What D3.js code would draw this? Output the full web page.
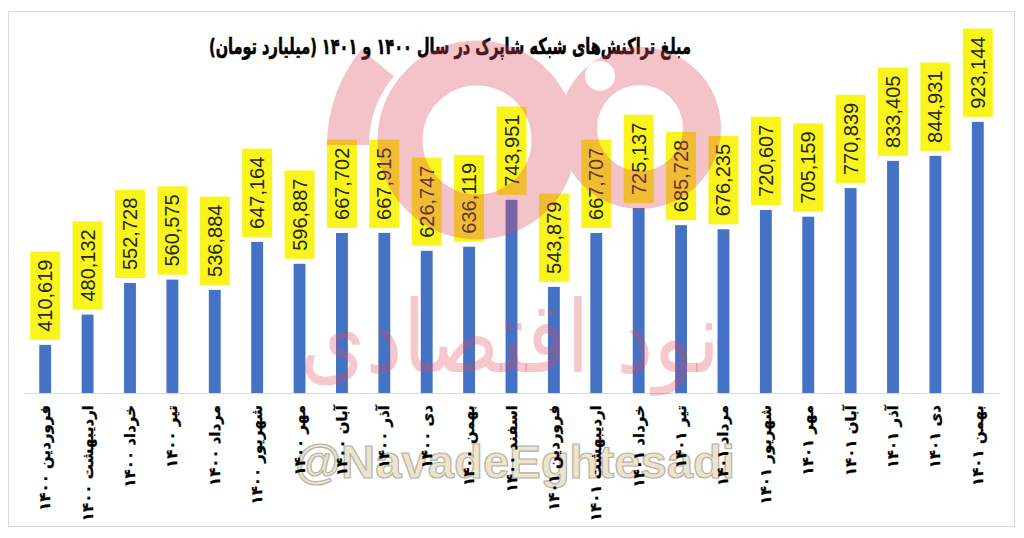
<!DOCTYPE html>
<html>
<head>
<meta charset="utf-8">
<script src="https://cdn.jsdelivr.net/npm/d3@7"></script>
<style>
  html, body { margin: 0; padding: 0; background: #ffffff; }
  svg { display: block; }
</style>
</head>
<body>
<svg id="chart" width="1024" height="538"></svg>
<script>
const titleText = "مبلغ تراکنش\u200cهای شبکه شاپرک در سال ۱۴۰۰ و ۱۴۰۱ (میلیارد تومان)";
const months = [
  "فروردین ۱۴۰۰", "اردیبهشت ۱۴۰۰", "خرداد ۱۴۰۰", "تیر ۱۴۰۰", "مرداد ۱۴۰۰",
  "شهریور ۱۴۰۰", "مهر ۱۴۰۰", "آبان ۱۴۰۰", "آذر ۱۴۰۰", "دی ۱۴۰۰", "بهمن ۱۴۰۰",
  "اسفند ۱۴۰۰", "فروردین ۱۴۰۱", "اردیبهشت ۱۴۰۱", "خرداد ۱۴۰۱", "تیر ۱۴۰۱",
  "مرداد ۱۴۰۱", "شهریور ۱۴۰۱", "مهر ۱۴۰۱", "آبان ۱۴۰۱", "آذر ۱۴۰۱", "دی ۱۴۰۱",
  "بهمن ۱۴۰۱"
];
const values = [
  410619, 480132, 552728, 560575, 536884, 647164, 596887, 667702, 667915,
  626747, 636119, 743951, 543879, 667707, 725137, 685728, 676235, 720607,
  705159, 770839, 833405, 844931, 923144
];
const yDomain = [300000, 1000000];
const watermarkHandle = "@NavadeEghtesadi";
const watermarkName = "نود اقتصادی";

const svg = d3.select("#chart");
const fa = "'DejaVu Sans', sans-serif";

// frame
svg.append("rect").attr("x", 8.5).attr("y", 11.5).attr("width", 1006).attr("height", 515)
  .attr("fill", "#ffffff").attr("stroke", "#d9d9d9").attr("stroke-width", 1);

const x = d3.scaleBand().domain(months).range([24, 999]).paddingInner(0.72).paddingOuter(0.36);
const y = d3.scaleLinear().domain(yDomain).range([393, 88.4]);

// axis line
const axis = d3.axisBottom(x).tickSize(0).tickFormat("");
const gAxis = svg.append("g").attr("transform", "translate(0,393)").call(axis);
gAxis.select(".domain").attr("stroke", "#d9d9d9").attr("stroke-width", 1.2);

// bars
svg.append("g").selectAll("rect").data(values).join("rect")
  .attr("x", (d, i) => x(months[i]))
  .attr("width", x.bandwidth())
  .attr("y", d => y(d))
  .attr("height", d => y(yDomain[0]) - y(d))
  .attr("fill", "#4472c4");

// watermark handle (behind labels)
svg.append("text")
  .attr("x", 515).attr("y", 478)
  .attr("text-anchor", "middle")
  .attr("font-family", "'Liberation Sans', Arial, sans-serif")
  .attr("font-weight", "bold")
  .attr("font-size", 46)
  .attr("fill", "#e9dfc4").attr("fill-opacity", 0.85)
  .attr("stroke", "#b9b3a6").attr("stroke-width", 1.2)
  .attr("textLength", 440).attr("lengthAdjust", "spacingAndGlyphs")
  .text(watermarkHandle);

// value labels
const lab = svg.append("g").selectAll("g").data(values).join("g")
  .attr("transform", (d, i) => `translate(${x(months[i]) + x.bandwidth() / 2},${y(d) - 5})`);
lab.each(function (d) {
  const g = d3.select(this);
  const rect = g.append("rect").attr("fill", "#f9f51c");
  const t = g.append("text")
    .attr("transform", "rotate(-90)")
    .attr("text-anchor", "middle")
    .attr("dominant-baseline", "central")
    .attr("font-family", "'Liberation Sans', Arial, sans-serif")
    .attr("font-size", 20)
    .attr("fill", "#262626")
    .text(d3.format(",")(d));
  const len = t.node().getComputedTextLength();
  const h = len + 16;
  rect.attr("x", -15).attr("width", 30).attr("y", -h).attr("height", h);
  t.attr("x", h / 2).attr("y", 0);
});

// x labels
svg.append("g").selectAll("text").data(months).join("text")
  .attr("transform", d => `translate(${x(d) + x.bandwidth() / 2},405) rotate(-90)`)
  .attr("text-anchor", "end")
  .attr("dominant-baseline", "central")
  .attr("font-family", fa)
  .attr("font-weight", "bold")
  .attr("font-size", 15)
  .attr("fill", "#000000")
  .attr("stroke", "#000000").attr("stroke-width", 0.3)
  .text(d => d);

// title
svg.append("text")
  .attr("x", 450).attr("y", 54)
  .attr("direction", "rtl")
  .attr("text-anchor", "middle")
  .attr("font-family", fa)
  .attr("font-weight", "bold")
  .attr("font-size", 22)
  .attr("fill", "#000000")
  .attr("stroke", "#000000").attr("stroke-width", 0.6)
  .attr("textLength", 482).attr("lengthAdjust", "spacingAndGlyphs")
  .text(titleText);

// pink logo watermark (semi-transparent overlay)
const wm = svg.append("g").attr("opacity", 0.33).attr("fill", "none").attr("stroke", "#e04a5e");
wm.append("circle").attr("cx", 477).attr("cy", 140).attr("r", 77).attr("stroke-width", 45);
wm.append("circle").attr("cx", 640).attr("cy", 128).attr("r", 62).attr("stroke-width", 38);
const arc = d3.arc().innerRadius(108).outerRadius(150).startAngle(-Math.PI * 0.5).endAngle(-Math.PI * 0.28);
wm.append("path").attr("transform", "translate(477,145)").attr("d", arc()).attr("fill", "#e04a5e").attr("stroke", "none");
svg.append("circle").attr("cx", 600).attr("cy", 76).attr("r", 15).attr("fill", "#ffffff");
svg.append("text")
  .attr("x", 510).attr("y", 372)
  .attr("direction", "rtl")
  .attr("text-anchor", "middle")
  .attr("font-family", fa)
  .attr("font-size", 100)
  .attr("fill", "#e04a5e").attr("fill-opacity", 0.3)
  .attr("textLength", 420).attr("lengthAdjust", "spacingAndGlyphs")
  .text(watermarkName);
</script>
</body>
</html>
